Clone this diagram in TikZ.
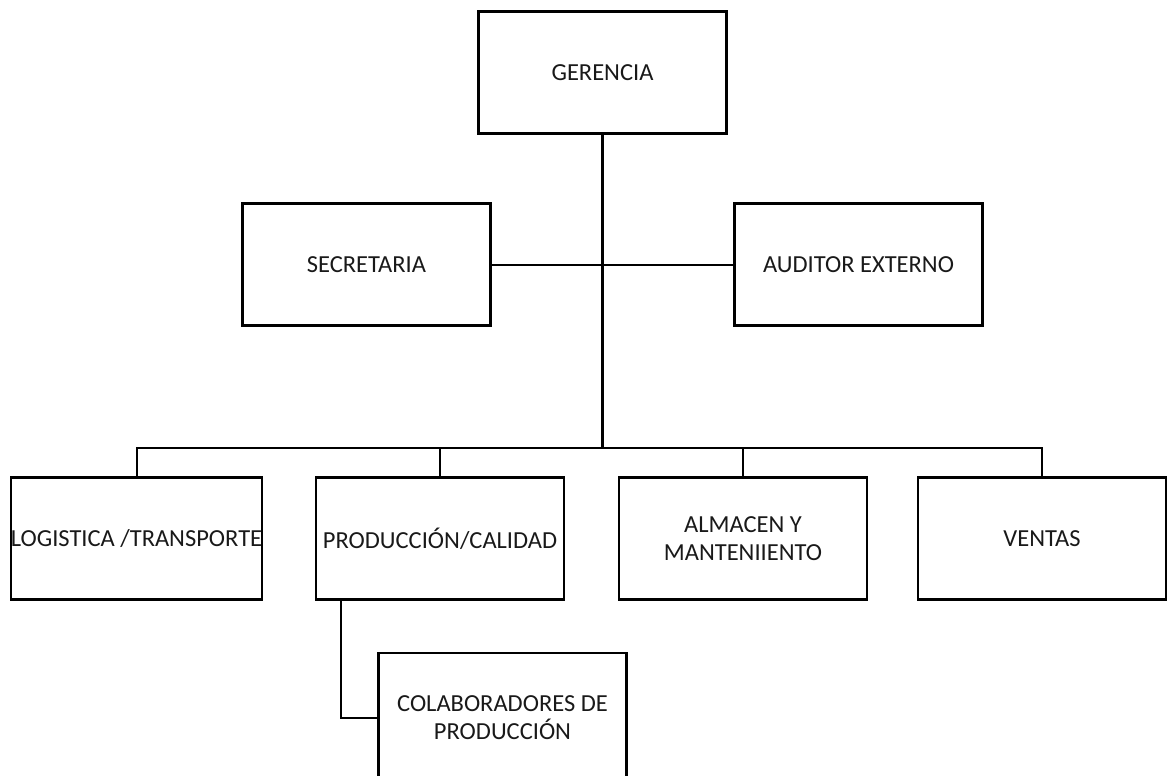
\documentclass[tikz,border=0pt]{standalone}
\usepackage{fontspec}
\setmainfont{Carlito}
\usetikzlibrary{calc}
\begin{document}
\begin{tikzpicture}[x=1pt,y=-1pt,
  orgbox/.style={draw=black, line width=2.5pt, minimum width=248pt, minimum height=122pt,
    inner sep=0pt, align=center, font=\fontsize{24.5}{28}\selectfont, text=black!90},
  trunk/.style={line width=3pt, draw=black},
  branch/.style={line width=2pt, draw=black}]
\useasboundingbox (0,0) rectangle (1167,776);
\node[orgbox] (ger) at (602.5,72.5) {GERENCIA};
\node[orgbox] (sec) at (366.5,264.5) {SECRETARIA};
\node[orgbox] (aud) at (858.5,264.5) {AUDITOR EXTERNO};
\node[orgbox] (log) at (136.5,538.5) {LOGISTICA /TRANSPORTE};
\node[orgbox] (prod) at (440,538.5) {PRODUCCIÓN/CALIDAD};
\node[orgbox] (alm) at (743,538.5) {ALMACEN Y\\MANTENIIENTO};
\node[orgbox] (ven) at (1042,538.5) {VENTAS};
\node[orgbox, minimum height=130pt] (col) at (502.5,718) {COLABORADORES DE\\PRODUCCIÓN};
\coordinate (bus) at (602.5,448);
\draw[trunk] (ger.south) -- (bus);
\draw[branch] (sec.east) -- (aud.west);
\draw[branch] (log.north) |- (bus);
\draw[branch] (ven.north) |- (bus);
\draw[branch] (prod.north) -- (prod.north |- bus);
\draw[branch] (alm.north) -- (alm.north |- bus);
\draw[branch] ($(prod.south west)+(26,0)$) |- (col.west);
\end{tikzpicture}
\end{document}
